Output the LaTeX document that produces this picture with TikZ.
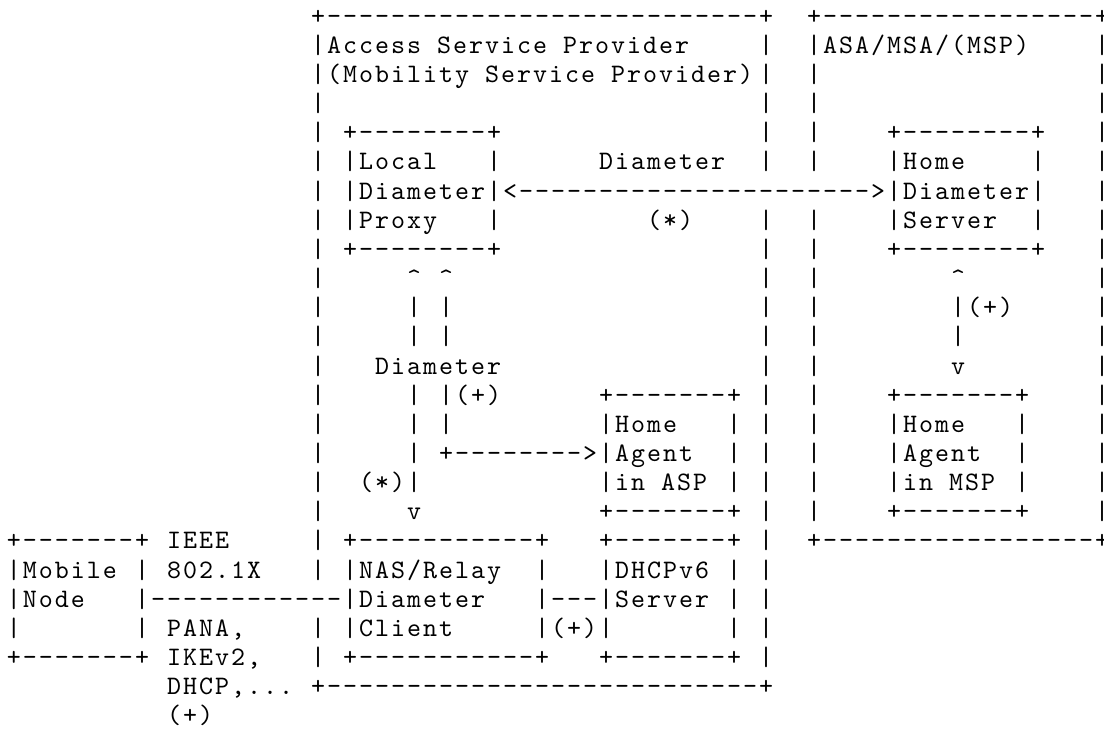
\documentclass[tikz,border=0pt]{standalone}
\usepackage{fontspec}
\newfontfamily\asciifont[LetterSpace=7.5]{lmmono10-regular.otf}
\tikzset{
  asc/.style={anchor=base west, inner sep=0pt, outer sep=0pt, text=black,
    font=\asciifont\fontsize{10}{12}\selectfont}
}
% place a text segment at character column #2, text row #3
\newcommand\asc[4]{\node[asc] (#1) at ({2.625pt+6pt*#2},{-9.04pt-10.935pt*#3}) {#4};}
\begin{document}
\begin{tikzpicture}
\useasboundingbox (0,0) rectangle (414pt,-273.375pt);
% ---------- Access Service Provider box ----------
\asc{aspTop}{19}{0}{+---------------------------+}
\asc{aspBot}{19}{23}{+---------------------------+}
\foreach \r in {1,...,19,21,22} {\asc{aspL\r}{19}{\r}{|}}
\foreach \r in {1,...,5,7,8,...,22} {\asc{aspR\r}{47}{\r}{|}}
\asc{aspT1}{20}{1}{Access Service Provider}
\asc{aspT2}{20}{2}{(Mobility Service Provider)}
% ---------- ASA/MSA/(MSP) box ----------
\asc{msaTop}{50}{0}{+-----------------+}
\asc{msaBot}{50}{18}{+-----------------+}
\foreach \r in {1,...,5,7,8,...,17} {\asc{msaL\r}{50}{\r}{|}}
\foreach \r in {1,...,17} {\asc{msaR\r}{68}{\r}{|}}
\asc{msaT}{51}{1}{ASA/MSA/(MSP)}
% ---------- Local Diameter Proxy ----------
\asc{ldpT}{21}{4}{+--------+}
\asc{ldp1}{21}{5}{|Local}
\asc{ldp1r}{30}{5}{|}
\asc{ldpArrow}{21}{6}{|Diameter|<---------------------->|Diameter|}
\asc{ldp3}{21}{7}{|Proxy}
\asc{ldp3r}{30}{7}{|}
\asc{ldpB}{21}{8}{+--------+}
\asc{diamLbl}{37}{5}{Diameter}
\asc{starLbl}{40}{7}{(*)}
% ---------- Home Diameter Server ----------
\asc{hdsT}{55}{4}{+--------+}
\asc{hds1}{55}{5}{|Home}
\asc{hds1r}{64}{5}{|}
\asc{hds3}{55}{7}{|Server}
\asc{hds3r}{64}{7}{|}
\asc{hdsB}{55}{8}{+--------+}
% ---------- vertical links under Local Diameter Proxy ----------
\asc{upA}{25}{9}{\textasciicircum}
\asc{upB}{27}{9}{\textasciicircum}
\foreach \r in {10,11,13,14,15} {\asc{vA\r}{25}{\r}{|}}
\foreach \r in {10,11,14} {\asc{vB\r}{27}{\r}{|}}
\asc{diamLbl2}{23}{12}{Diameter}
\asc{plusLbl}{27}{13}{|(+)}
\asc{haArrow}{27}{15}{+-------->|Agent}
\asc{starLbl2}{22}{16}{(*)|}
\asc{downA}{25}{17}{v}
% ---------- Home Agent in ASP ----------
\asc{haaT}{37}{13}{+-------+}
\asc{haa1}{37}{14}{|Home}
\asc{haa1r}{45}{14}{|}
\asc{haa2r}{45}{15}{|}
\asc{haa3}{37}{16}{|in ASP}
\asc{haa3r}{45}{16}{|}
\asc{haaB}{37}{17}{+-------+}
% ---------- link Home Diameter Server - Home Agent in MSP ----------
\asc{upC}{59}{9}{\textasciicircum}
\asc{vC10}{59}{10}{|(+)}
\asc{vC11}{59}{11}{|}
\asc{downC}{59}{12}{v}
% ---------- Home Agent in MSP ----------
\asc{hamT}{55}{13}{+-------+}
\asc{ham1}{55}{14}{|Home}
\asc{ham1r}{63}{14}{|}
\asc{ham2}{55}{15}{|Agent}
\asc{ham2r}{63}{15}{|}
\asc{ham3}{55}{16}{|in MSP}
\asc{ham3r}{63}{16}{|}
\asc{hamB}{55}{17}{+-------+}
% ---------- Mobile Node ----------
\asc{mnT}{0}{18}{+-------+}
\asc{mn1}{0}{19}{|Mobile}
\asc{mn1r}{8}{19}{|}
\asc{mn2}{0}{20}{|Node}
\asc{mnLink}{8}{20}{|------------|Diameter}
\asc{mn3}{0}{21}{|}
\asc{mn3r}{8}{21}{|}
\asc{mnB}{0}{22}{+-------+}
\asc{ieee}{10}{18}{IEEE}
\asc{ieee2}{10}{19}{802.1X}
\asc{pana}{10}{21}{PANA,}
\asc{ikev}{10}{22}{IKEv2,}
\asc{dhcp}{10}{23}{DHCP,...}
\asc{plusLbl3}{10}{24}{(+)}
% ---------- NAS/Relay Diameter Client ----------
\asc{nasT}{21}{18}{+-----------+}
\asc{nas1}{21}{19}{|NAS/Relay}
\asc{nas1r}{33}{19}{|}
\asc{nasLink}{33}{20}{|---|Server}
\asc{nas3}{21}{21}{|Client}
\asc{nas3r}{33}{21}{|(+)|}
\asc{nasB}{21}{22}{+-----------+}
% ---------- DHCPv6 Server ----------
\asc{dhT}{37}{18}{+-------+}
\asc{dh1}{37}{19}{|DHCPv6}
\asc{dh1r}{45}{19}{|}
\asc{dh2r}{45}{20}{|}
\asc{dh3r}{45}{21}{|}
\asc{dhB}{37}{22}{+-------+}
\end{tikzpicture}
\end{document}
